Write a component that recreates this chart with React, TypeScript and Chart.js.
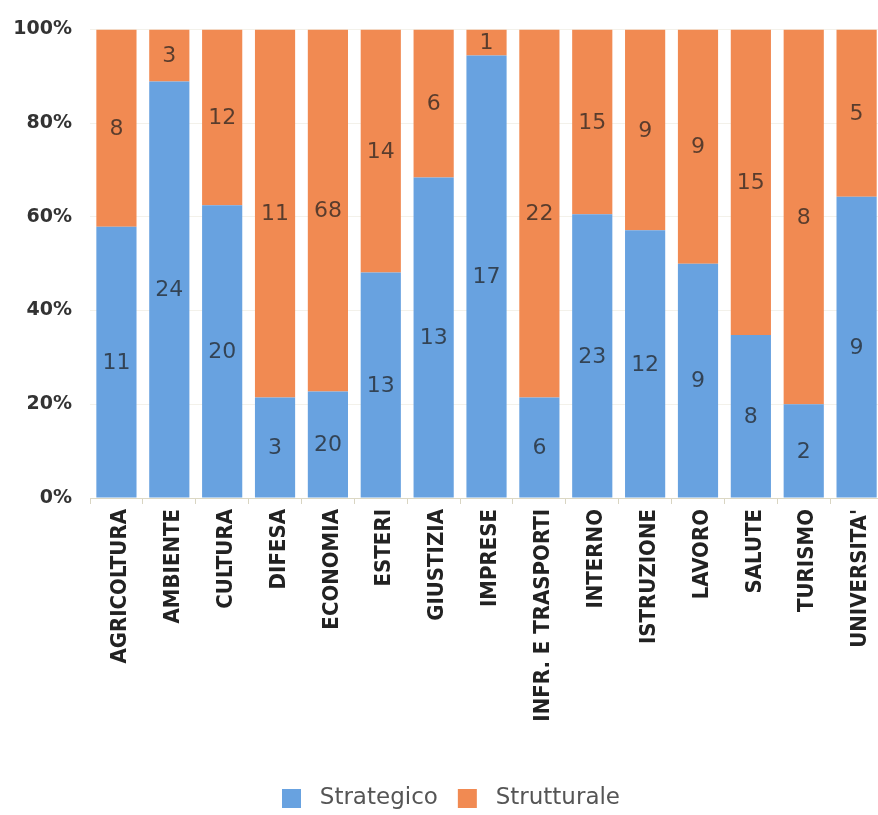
import React, { useEffect, useRef } from "react";
import { Chart, registerables } from "chart.js";

Chart.register(...registerables);

// Ministries / areas shown on the x axis
const categories = [
  "AGRICOLTURA",
  "AMBIENTE",
  "CULTURA",
  "DIFESA",
  "ECONOMIA",
  "ESTERI",
  "GIUSTIZIA",
  "IMPRESE",
  "INFR. E TRASPORTI",
  "INTERNO",
  "ISTRUZIONE",
  "LAVORO",
  "SALUTE",
  "TURISMO",
  "UNIVERSITA'",
];

// Counts per category for each series
const strategico = [11, 24, 20, 3, 20, 13, 13, 17, 6, 23, 12, 9, 8, 2, 9];
const strutturale = [8, 3, 12, 11, 68, 14, 6, 1, 22, 15, 9, 9, 15, 8, 5];

const seriesNames = ["Strategico", "Strutturale"];
const seriesColors = ["#68a2e0", "#f18a52"];

// Share of each category total, in percent
const toShare = (a: number[], b: number[]) =>
  a.map((v, i) => (v / (v + b[i])) * 100);

const strategicoPct = toShare(strategico, strutturale);
const strutturalePct = toShare(strutturale, strategico);
const seriesCounts = [strategico, strutturale];

// The drawing surface runs slightly past the visible frame on the right
const CANVAS_W = 888;
const CANVAS_H = 815;
const FRAME_W = 878;

// Writes the raw count in the middle of each stacked segment
const countLabels = {
  id: "countLabels",
  afterDatasetsDraw(chart: any) {
    const ctx = chart.ctx;
    ctx.save();
    ctx.font = '22px "DejaVu Sans", sans-serif';
    ctx.fillStyle = "rgba(30,30,30,0.72)";
    ctx.textAlign = "center";
    ctx.textBaseline = "middle";
    chart.data.datasets.forEach((_ds: any, i: number) => {
      const meta = chart.getDatasetMeta(i);
      meta.data.forEach((bar: any, j: number) => {
        const { x, y, base } = bar.getProps(["x", "y", "base"], true);
        ctx.fillText(String(seriesCounts[i][j]), x, (y + base) / 2 + 1);
      });
    });
    ctx.restore();
  },
};

// Nudges the legend row so it sits centred under the visible frame
const legendShift = {
  id: "legendShift",
  afterLayout(chart: any) {
    if (chart.legend) chart.legend.left += 14;
  },
};

export default function App() {
  const canvasRef = useRef<HTMLCanvasElement | null>(null);

  useEffect(() => {
    const canvas = canvasRef.current;
    if (!canvas) return;
    const chart = new Chart(canvas, {
      type: "bar",
      data: {
        labels: categories,
        datasets: [
          {
            label: " " + seriesNames[0],
            data: strategicoPct,
            backgroundColor: seriesColors[0],
            borderWidth: 0,
          },
          {
            label: " " + seriesNames[1],
            data: strutturalePct,
            backgroundColor: seriesColors[1],
            borderWidth: 0,
          },
        ],
      },
      options: {
        responsive: false,
        animation: false,
        devicePixelRatio: 1,
        layout: { padding: { top: 27, left: 0, right: 0, bottom: -5 } },
        datasets: {
          bar: { categoryPercentage: 1, barPercentage: 0.76 },
        },
        plugins: {
          tooltip: { enabled: false },
          legend: {
            position: "bottom",
            labels: {
              boxWidth: 19,
              boxHeight: 19,
              padding: 20,
              color: "#555",
              font: { family: '"DejaVu Sans", sans-serif', size: 23 },
            },
          },
        },
        scales: {
          x: {
            stacked: true,
            afterFit: (scale: any) => {
              scale.height = 269;
            },
            grid: {
              offset: true,
              drawOnChartArea: false,
              drawTicks: true,
              tickLength: 6,
              color: "#d9d5c2",
            },
            border: { display: true, color: "#dcd8c4", width: 1 },
            ticks: {
              autoSkip: false,
              minRotation: 90,
              maxRotation: 90,
              padding: 5,
              labelOffset: 4,
              color: "#222",
              font: {
                family:
                  '"Liberation Sans Narrow", "DejaVu Sans Condensed", "Arial Narrow", sans-serif',
                size: 22,
                weight: "bold",
              },
            },
          },
          y: {
            stacked: true,
            min: 0,
            max: 100,
            afterFit: (scale: any) => {
              scale.width = 90;
            },
            border: { display: false },
            grid: {
              drawTicks: false,
              color: "rgba(215,210,185,0.3)",
            },
            ticks: {
              stepSize: 20,
              padding: 18,
              color: "#333",
              font: {
                family: '"DejaVu Sans", sans-serif',
                size: 19,
                weight: "bold",
              },
              callback: (v: any) => v + "%",
            },
          },
        },
      },
      plugins: [countLabels, legendShift],
    });
    return () => chart.destroy();
  }, []);

  return (
    <div
      style={{
        position: "fixed",
        left: 0,
        top: 0,
        width: FRAME_W,
        height: CANVAS_H,
        overflow: "hidden",
        background: "#fff",
      }}
    >
      <canvas
        ref={canvasRef}
        width={CANVAS_W}
        height={CANVAS_H}
        style={{ display: "block", width: CANVAS_W, height: CANVAS_H }}
      />
    </div>
  );
}
